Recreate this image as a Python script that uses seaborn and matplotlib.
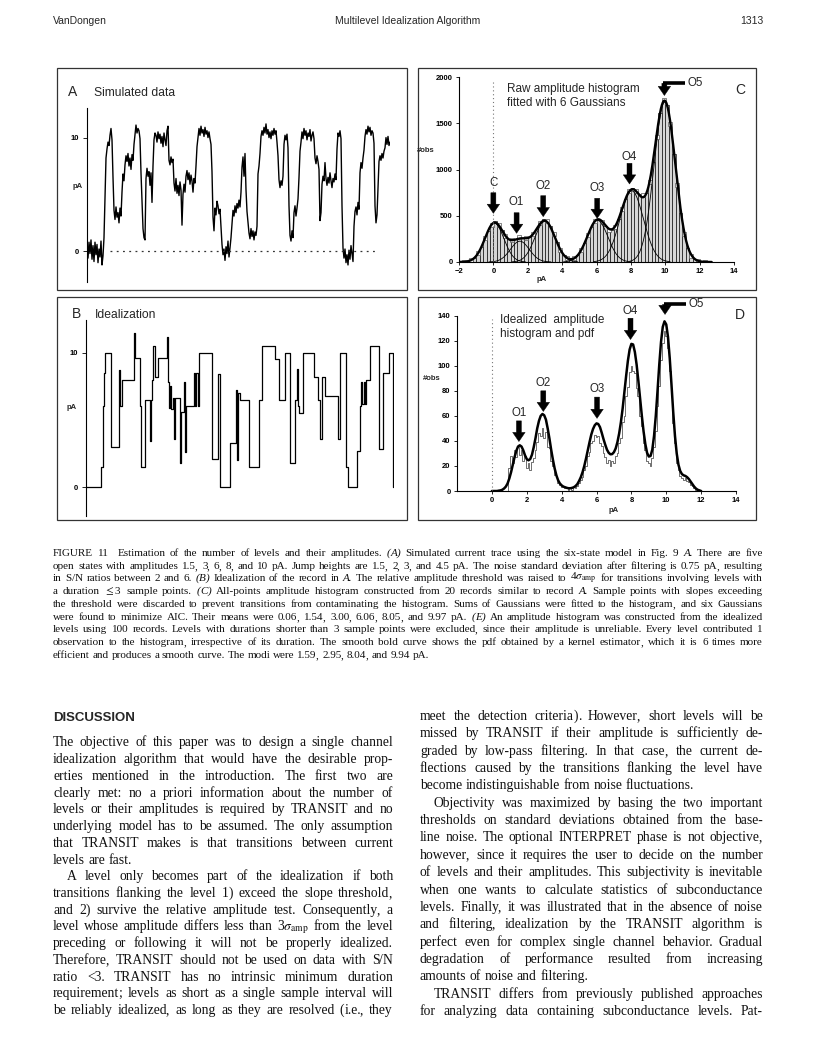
import re

import matplotlib
matplotlib.use("Agg")
import matplotlib.pyplot as plt
import numpy as np
import seaborn as sns
from matplotlib.patches import Rectangle

sns.set_theme(style="white")
plt.rcParams["font.family"] = "Liberation Sans"
plt.rcParams["mathtext.fontset"] = "stix"

W, H = 816, 1064
SANS = "Liberation Sans"
SERIF = "Liberation Serif"

# ---------------- data ----------------
# A: simulated current trace (pA), one value per sample
trace_a = [
    0.3, -0.6, 0.8, -0.2, 1.0, -0.7, 0.5, -0.9, 0.8, -0.3, 0.6, -1.0, 0.2, -0.5, 0.9, -1.2, -0.4,
    1.2, 4.8, 8.2, 9.0, 9.6, 9.3, 10.2, 10.8, 9.8, 6.5,
    3.6, 2.8, 3.9, 3.0, 3.4, 2.5, 3.8, 3.1,
    5.2, 6.8, 6.2,
    7.6, 8.4, 7.9, 8.6, 7.5, 8.2, 7.2, 8.5, 8.0,
    9.4, 10.3, 11.1, 10.4, 10.8, 10.6, 9.9,
    6.9, 4.5, 2.0, 1.2, 1.0,
    6.4, 7.3, 6.6, 7.0, 5.8, 6.9,
    4.3, 7.5, 9.8,
    10.4, 10.2, 9.6, 10.5, 9.9, 10.3, 9.5, 10.1, 9.2, 10.4, 9.8, 9.3, 10.6, 11.0,
    8.0, 7.6, 8.3, 7.8, 8.1,
    6.0, 5.3, 6.4, 5.1, 5.8, 4.9, 6.1, 5.4, 2.3, 5.0, 5.9, 5.2,
    6.6, 7.1, 6.3, 6.9, 5.9, 6.7, 6.2, 5.2, 6.4, 6.0,
    7.5, 9.2, 10.0,
    10.8, 10.2, 11.0, 10.4, 10.7, 10.1, 10.9, 10.3, 10.6, 10.0, 10.5, 9.9, 9.4,
    7.0, 3.0, 1.8,
    3.8, 3.2, 4.4, 4.0, 3.3, 3.7, 2.1,
    0.6, -0.3, 0.2, -0.8, 0.4, -0.2, 0.9, -0.5, 0.3, 1.2,
    2.4, 3.6, 3.1, 4.0, 3.4, 4.2, 3.8, 4.5, 3.9, 5.2,
    7.4, 8.3, 6.6, 8.6, 5.4,
    3.5, 2.6, 1.6, 1.1, 2.0, 1.3, 1.8, 1.0, 1.7, 1.4, 2.2,
    6.8, 7.5, 8.6,
    10.1, 10.6, 10.2, 10.9, 10.4, 11.2, 10.3, 10.7, 10.0, 10.5, 9.9, 10.6, 10.2, 10.8, 10.3, 10.6, 9.6, 8.4,
    6.3, 5.6, 6.2, 5.8, 6.6,
    9.4, 10.2, 9.8, 10.3, 9.1,
    4.0, 1.4, 0.9, 1.8, 1.2,
    3.4, 4.0, 3.1, 3.8, 4.6,
    6.5, 8.8, 9.6,
    10.5, 9.9, 10.8, 10.2, 10.6, 9.8, 10.4, 10.1, 10.7, 9.7, 10.2, 10.5, 9.9,
    8.2, 7.7, 8.4, 7.9, 7.2,
    2.7, 3.4,
    5.9, 6.6, 6.2, 7.8, 6.4, 5.8, 6.5, 6.0, 6.9, 6.2, 5.6, 6.4, 6.1, 6.8, 6.3,
    9.0, 10.4, 10.1, 10.6, 9.9,
    4.0,
    0.3, -0.6, 0.2, -1.0, -0.3, -1.2, 0.1, -0.7, 0.5, -0.2, -0.9,
    2.2, 3.5, 3.9, 3.2, 4.3, 3.7,
    6.9, 7.8, 7.3, 8.2, 8.9,
    10.1, 10.7, 10.3, 11.0, 10.5, 10.9, 10.2, 10.6, 10.4, 9.5,
    4.0, 2.5, 3.2,
    5.5, 7.9, 8.4, 8.0, 8.6, 8.2, 8.8, 9.1, 10.0, 9.4, 10.1, 9.3, 9.6,
]
baseline_a = [23.3, 288.3]   # extent of the dotted zero line (samples)

# B: idealized record, change times (samples) and levels (pA)
steps_t_b = [0, 15.3, 16.7, 18, 19.3, 24.7, 32.7, 33.3, 34, 36, 47.7, 48.7, 54.3, 55.3,
             59.3, 63.7, 64.7, 66, 67, 69.3, 71.7, 81, 82, 83.3, 84.3, 85.3, 86.7, 88,
             88.7, 94.3, 95.3, 98, 98.7, 99.7, 108.3, 109.3, 110.3, 111.7, 112.7, 126,
             132, 133.7, 144.3, 150.3, 151.3, 152.3, 153.7, 162.7, 172.7, 176, 189.3,
             192.7, 199.3, 204.3, 209.3, 211, 212, 213.3, 216.7, 227.7, 232, 234.3, 236,
             239.3, 252, 254.3, 260, 262, 271, 274.3, 275.3, 276.3, 277.7, 278.7, 279.7,
             284.3, 292.7, 296.7, 302.7, 306.7, 307.7]
steps_y_b = [0, 1.5, 6, 8.5, 10, 3, 6, 8.7, 6, 8, 11.5, 9.6, 6, 1.5,
             6.5, 3.4, 6.5, 8, 10.5, 8.2, 9.6, 11.2, 7.8, 5.9, 7.5, 5.8, 6.6, 3.6,
             6.6, 1.8, 5.6, 7.8, 2.6, 6, 8.5, 6, 8.5, 6, 10, 2.1,
             8.4, 0, 3.3, 7.2, 2.0, 7.0, 6.5, 1.5, 6.5, 10.5, 9.5,
             6.5, 10, 1.8, 6.5, 8.8, 6, 5.5, 10, 8.2, 6.5, 3.6, 8.2,
             6.8, 3.6, 10, 1.5, 0, 2.7, 6, 7.8, 6.2, 7.8, 6.2, 8,
             10.5, 2.8, 8.5, 10, 0, 0]

# C: all-points amplitude histogram (bins of 0.2 pA starting at -1.7)
hist_c_first, hist_c_bin = -1.7, 0.2
hist_c = [3, 9, 22, 48, 95, 165, 255, 335, 405, 440, 400, 345, 285, 250, 240, 245,
          270, 255, 262, 275, 305, 360, 420, 465, 440, 390, 300, 215, 135, 78, 45, 38,
          45, 75, 130, 205, 295, 380, 440, 455, 430, 385, 350, 345, 380, 460, 570, 680,
          770, 795, 770, 730, 720, 745, 860, 1080, 1350, 1610, 1750, 1700, 1490, 1170,
          830, 525, 300, 150, 70, 28, 10, 4, 1]
gauss_labels = ["C", "O1", "O2", "O3", "O4", "O5"]
gauss_means = [0.06, 1.54, 3.00, 6.06, 8.05, 9.97]
gauss_heights = [420, 225, 440, 450, 770, 1730]
gauss_sds = [0.55, 0.55, 0.58, 0.60, 0.68, 0.62]

# D: idealized amplitude histogram (0.1 pA bins from 0.9) and kernel pdf (0.1 pA grid from 0)
hist_d_first, hist_d_bin = 0.9, 0.1
hist_d = [0, 18, 28, 22, 33, 27, 35, 29, 33, 24, 28, 18, 22, 17, 23, 26, 33, 39, 46, 44,
          50, 42, 47, 35, 34, 24, 20, 13, 11, 6, 5, 3, 4, 2, 3, 1, 2, 1, 3, 2, 4, 6, 9,
          11, 17, 20, 28, 31, 38, 40, 45, 43, 44, 38, 36, 30, 27, 22, 25, 20, 24, 22, 28,
          30, 38, 42, 55, 60, 76, 83, 95, 100, 96, 94, 82, 76, 60, 52, 38, 33, 24, 22, 20,
          26, 35, 48, 68, 84, 105, 118, 128, 124, 114, 96, 78, 54, 38, 22, 17, 12, 10, 9,
          10, 8, 7, 5, 4, 2, 1, 1, 0]
pdf_d_first, pdf_d_step = 0.0, 0.1
pdf_d = [0, 0, 0, 0, 0.3, 0.5, 1, 2, 3.5, 6, 10, 15, 21, 27, 32, 35.5, 36.5, 35.5, 32.5,
         28.5, 25.5, 24.5, 25.5, 29, 35, 42, 50, 56, 60, 61.5, 60.5, 57, 50, 42, 33, 25,
         18, 12.5, 8.5, 6, 4.5, 3.5, 3, 2.5, 2.2, 2.2, 2.5, 3, 4, 5.5, 8, 11, 15, 20, 26,
         32.5, 39, 45, 49.5, 52.5, 54, 53.5, 51, 46.5, 41.5, 37, 33, 30.5, 29.3, 29.5, 31,
         34, 39, 46, 55, 66, 79, 92, 104, 113, 117.5, 117, 111, 101, 88, 74, 60, 47.5,
         37.5, 30.5, 27.5, 28, 33, 44, 60, 80, 101, 119, 131, 135.5, 133, 123, 106, 85,
         63, 44, 30, 21, 16, 13.5, 12.5, 12, 11, 9.5, 7.5, 5.5, 3.5, 2, 1, 0.5, 0]

# arrow annotations: label, x (pA), label y, arrow tail y, arrow tip y
arrows_c = [("C", 0.0, 851, 749, 526), ("O1", 1.35, 645, 533, 310),
            ("O2", 2.9, 822, 717, 490), ("O3", 6.04, 797, 689, 472),
            ("O4", 7.92, 1138, 1067, 843)]
bent_c = dict(x_end=11.15, x=9.95, y=1932, tip=1800)
arrows_d = [("O1", 1.55, 62, 56, 39.5), ("O2", 2.95, 86, 80, 63.5),
            ("O3", 6.03, 81.6, 75, 58), ("O4", 7.95, 144, 138, 121)]
bent_d = dict(x_end=11.14, x=9.93, y=149, tip=141)

HEADER = ("VanDongen", "Multilevel Idealization Algorithm", "1313")

CAPTION = [
    ("FIGURE 11  Estimation of the number of levels and their amplitudes. _(A) Simulated current trace using the six-state model in Fig. 9 _A. There are five", "j"),
    ("open states with amplitudes 1.5, 3, 6, 8, and 10 pA. Jump heights are 1.5, 2, 3, and 4.5 pA. The noise standard deviation after filtering is 0.75 pA, resulting", "j"),
    ("in S/N ratios between 2 and 6. _(B) Idealization of the record in _A. The relative amplitude threshold was raised to 4$\\sigma_{\\mathrm{amp}}$ for transitions involving levels with", "j"),
    ("a duration $\\leq$3 sample points. _(C) All-points amplitude histogram constructed from 20 records similar to record _A. Sample points with slopes exceeding", "j"),
    ("the threshold were discarded to prevent transitions from contaminating the histogram. Sums of Gaussians were fitted to the histogram, and six Gaussians", "j"),
    ("were found to minimize AIC. Their means were 0.06, 1.54, 3.00, 6.06, 8.05, and 9.97 pA. _(E) An amplitude histogram was constructed from the idealized", "j"),
    ("levels using 100 records. Levels with durations shorter than 3 sample points were excluded, since their amplitude is unreliable. Every level contributed 1", "j"),
    ("observation to the histogram, irrespective of its duration. The smooth bold curve shows the pdf obtained by a kernel estimator, which it is 6 times more", "j"),
    ("efficient and produces a smooth curve. The modi were 1.59, 2.95, 8.04, and 9.94 pA.", "l"),
]

LEFT_COL = [
    ("The objective of this paper was to design a single channel", "j"),
    ("idealization algorithm that would have the desirable prop-", "j"),
    ("erties mentioned in the introduction. The first two are", "j"),
    ("clearly met: no a priori information about the number of", "j"),
    ("levels or their amplitudes is required by TRANSIT and no", "j"),
    ("underlying model has to be assumed. The only assumption", "j"),
    ("that TRANSIT makes is that transitions between current", "j"),
    ("levels are fast.", "l"),
    ("A level only becomes part of the idealization if both", "ij"),
    ("transitions flanking the level 1) exceed the slope threshold,", "j"),
    ("and 2) survive the relative amplitude test. Consequently, a", "j"),
    ("level whose amplitude differs less than 3$\\sigma_{\\mathrm{amp}}$ from the level", "j"),
    ("preceding or following it will not be properly idealized.", "j"),
    ("Therefore, TRANSIT should not be used on data with S/N", "j"),
    ("ratio <3. TRANSIT has no intrinsic minimum duration", "j"),
    ("requirement; levels as short as a single sample interval will", "j"),
    ("be reliably idealized, as long as they are resolved (i.e., they", "j"),
]

RIGHT_COL = [
    ("meet the detection criteria). However, short levels will be", "j"),
    ("missed by TRANSIT if their amplitude is sufficiently de-", "j"),
    ("graded by low-pass filtering. In that case, the current de-", "j"),
    ("flections caused by the transitions flanking the level have", "j"),
    ("become indistinguishable from noise fluctuations.", "l"),
    ("Objectivity was maximized by basing the two important", "ij"),
    ("thresholds on standard deviations obtained from the base-", "j"),
    ("line noise. The optional INTERPRET phase is not objective,", "j"),
    ("however, since it requires the user to decide on the number", "j"),
    ("of levels and their amplitudes. This subjectivity is inevitable", "j"),
    ("when one wants to calculate statistics of subconductance", "j"),
    ("levels. Finally, it was illustrated that in the absence of noise", "j"),
    ("and filtering, idealization by the TRANSIT algorithm is", "j"),
    ("perfect even for complex single channel behavior. Gradual", "j"),
    ("degradation of performance resulted from increasing", "j"),
    ("amounts of noise and filtering.", "l"),
    ("TRANSIT differs from previously published approaches", "ij"),
    ("for analyzing data containing subconductance levels. Pat-", "j"),
]


# ---------------- helpers ----------------
def px_axes(fig, left, top, right, bottom):
    ax = fig.add_axes([left / W, 1 - bottom / H, (right - left) / W, (bottom - top) / H])
    ax.patch.set_alpha(0)
    return ax


def ftext(fig, x, y, s, **kw):
    return fig.text(x / W, 1 - y / H, s, **kw)


def panel_box(fig, left, top, right, bottom):
    fig.add_artist(Rectangle((left / W, 1 - bottom / H), (right - left) / W, (bottom - top) / H,
                             transform=fig.transFigure, fill=False, ec="#333333", lw=0.9))


def split_word(w):
    # punctuation that dips below the baseline is drawn on its own, so every
    # piece of a line sits on the same baseline
    if "$" in w:
        return [w]
    return [p for p in re.split(r"([(),;/])", w) if p]


def advance(fig, r, s, **kw):
    # pen advance of s: width of s+"n" minus width of "n" (drops bbox overhead)
    t1 = fig.text(0, 0, s + "n", **kw)
    t2 = fig.text(0, 0, "n", **kw)
    adv = t1.get_window_extent(r).width - t2.get_window_extent(r).width
    t1.remove()
    t2.remove()
    return adv


def text_lines(fig, lines, x0, x1, y_first, dy, size, indent=14):
    r = fig.canvas.get_renderer()
    space = advance(fig, r, "n ", fontsize=size, family=SERIF) - advance(fig, r, "n", fontsize=size, family=SERIF)
    # lone commas / semicolons are drawn a little right of their pen position
    nudge = 0.1 * size * 100 / 72
    for k, (line, mode) in enumerate(lines):
        y = round(y_first + k * dy)
        left = x0 + (indent if mode.startswith("i") else 0)
        words = []
        for w in line.split(" "):
            style = "normal"
            if w.startswith("_"):
                w, style = w[1:], "italic"
            kw = dict(fontsize=size, family=SERIF, style=style)
            parts = split_word(w)
            pieces = [ftext(fig, left, y, p, va="baseline", color="#111111", **kw) for p in parts]
            widths = [advance(fig, r, p, **kw) for p in parts]
            words.append((pieces, widths))
        total = sum(sum(wd) for _, wd in words)
        if mode.endswith("l") or len(words) < 2:
            gap = space
        else:
            gap = (x1 - left - total) / (len(words) - 1)
        x = left
        for pieces, widths in words:
            for t, wd in zip(pieces, widths):
                shift = nudge if t.get_text() in (",", ";") else 0
                t.set_x((x - shift) / W)
                x += wd
            x += gap


def style_axis(ax, size=5.5):
    for side in ["top", "right"]:
        ax.spines[side].set_visible(False)
    for side in ["left", "bottom"]:
        ax.spines[side].set_linewidth(0.8)
        ax.spines[side].set_color("black")
    ax.tick_params(direction="out", length=2.5, width=0.6, labelsize=size, pad=2,
                   colors="black", left=True, bottom=True)
    for lab in ax.get_xticklabels() + ax.get_yticklabels():
        lab.set_fontweight("bold")
    ax.set_xlabel("")
    ax.set_ylabel("")


def down_arrow(ax, x, tail, tip):
    ax.annotate("", xy=(x, tip), xytext=(x, tail), annotation_clip=False,
                arrowprops=dict(arrowstyle="simple,head_length=0.55,head_width=0.75,tail_width=0.3",
                                fc="black", ec="black", lw=0.3, shrinkA=0, shrinkB=0))


def bent_arrow(ax, spec, label):
    ax.plot([spec["x_end"], spec["x"] - 0.06], [spec["y"], spec["y"]], color="black",
            lw=2.6, solid_capstyle="butt", clip_on=False)
    down_arrow(ax, spec["x"], spec["y"], spec["tip"])
    ax.text(spec["x_end"] + 0.15, spec["y"], label, fontsize=8.3, ha="left", va="center",
            clip_on=False)


# ---------------- figure ----------------
fig = plt.figure(figsize=(W / 100, H / 100), dpi=100)
fig.patch.set_facecolor("white")

# running head
ftext(fig, 53, 24, HEADER[0], fontsize=7.5, family=SANS, va="baseline")
ftext(fig, 408, 24, HEADER[1], fontsize=7.5, family=SANS, va="baseline", ha="center")
ftext(fig, 763, 24, HEADER[2], fontsize=7.5, family=SANS, va="baseline", ha="right")

# panel frames
panel_box(fig, 57, 68, 407, 290)
panel_box(fig, 418, 68, 756, 290)
panel_box(fig, 57, 297, 407, 520)
panel_box(fig, 418, 297, 756, 520)

# ---- A ----
ax_a = px_axes(fig, 87, 108, 390, 282)
x_a = np.arange(len(trace_a))
sns.lineplot(x=x_a, y=trace_a, ax=ax_a, color="black", lw=1.0, estimator=None)
ax_a.plot(baseline_a, [0, 0], color="#333333", lw=0.9, ls=(0, (1.5, 3.5)))
ax_a.set_xlim(0, len(trace_a) - 1)
ax_a.set_ylim(-2.7, 12.6)
ax_a.set_xticks([])
ax_a.set_yticks([0, 10])
style_axis(ax_a)
ax_a.spines["bottom"].set_visible(False)
ax_a.tick_params(axis="y", length=3, pad=3)
ftext(fig, 68, 96, "A", fontsize=10, family=SANS, va="baseline")
ftext(fig, 94, 96, "Simulated data", fontsize=8.7, family=SANS, va="baseline")
ftext(fig, 78, 187, "pA", fontsize=5.5, family=SANS, weight="bold", ha="center", va="center")

# ---- B ----
ax_b = px_axes(fig, 86, 320, 394, 516)
sns.lineplot(x=steps_t_b, y=steps_y_b, ax=ax_b, color="black", lw=0.9,
             drawstyle="steps-post", estimator=None)
ax_b.set_xlim(0, 308)
ax_b.set_ylim(-2.15, 12.43)
ax_b.set_xticks([])
ax_b.set_yticks([0, 10])
style_axis(ax_b)
ax_b.spines["bottom"].set_visible(False)
ax_b.tick_params(axis="y", length=3, pad=3)
ftext(fig, 72, 318, "B", fontsize=10, family=SANS, va="baseline")
ftext(fig, 95, 318, "Idealization", fontsize=8.7, family=SANS, va="baseline")
ftext(fig, 72, 408, "pA", fontsize=5.5, family=SANS, weight="bold", ha="center", va="center")

# ---- C ----
ax_c = px_axes(fig, 459, 77, 734, 262)
centers_c = hist_c_first + hist_c_bin * np.arange(len(hist_c))
ax_c.bar(centers_c, hist_c, width=hist_c_bin, color="#d6d6d6", edgecolor="black", linewidth=0.45)
ax_c.plot(centers_c[::2], hist_c[::2], "s", ms=2.4, mfc="white", mec="#555555", mew=0.5)
xs = np.linspace(-1.95, 12.7, 800)
total = np.zeros_like(xs)
for m, h, s in zip(gauss_means, gauss_heights, gauss_sds):
    comp = h * np.exp(-(xs - m) ** 2 / (2 * s ** 2))
    total += comp
    keep = np.abs(xs - m) < 3.3 * s
    sns.lineplot(x=xs[keep], y=comp[keep], ax=ax_c, color="black", lw=0.6, estimator=None)
sns.lineplot(x=xs, y=total, ax=ax_c, color="black", lw=1.7, estimator=None)
ax_c.axvline(0, color="#777777", lw=0.8, ls=(0, (1, 2.5)), ymax=0.98)
ax_c.set_xlim(-2, 14)
ax_c.set_ylim(0, 2000)
ax_c.set_xticks(range(-2, 15, 2))
ax_c.set_yticks(range(0, 2001, 500))
style_axis(ax_c)
for lab, x, ly, tail, tip in arrows_c:
    down_arrow(ax_c, x, tail, tip)
    ax_c.text(x, ly, lab, fontsize=8.3, ha="center", va="center")
bent_arrow(ax_c, bent_c, "O5")
ftext(fig, 507, 92, "Raw amplitude histogram", fontsize=8.5, family=SANS, va="baseline")
ftext(fig, 507, 106.5, "fitted with 6 Gaussians", fontsize=8.5, family=SANS, va="baseline")
ftext(fig, 740, 90, "C", fontsize=10, family=SANS, va="center", ha="center")
ftext(fig, 426, 150, "#obs", fontsize=5.5, family=SANS, weight="bold", ha="center", va="center")
ftext(fig, 542, 279, "pA", fontsize=5.5, family=SANS, weight="bold", ha="center", va="center")

# ---- D ----
ax_d = px_axes(fig, 457, 315.7, 736, 491)
x_hd = hist_d_first + hist_d_bin * np.arange(len(hist_d))
sns.lineplot(x=x_hd, y=hist_d, ax=ax_d, color="#6f6f6f", lw=0.7,
             drawstyle="steps-mid", estimator=None)
x_pd = pdf_d_first + pdf_d_step * np.arange(len(pdf_d))
sns.lineplot(x=x_pd, y=pdf_d, ax=ax_d, color="black", lw=1.8, estimator=None)
ax_d.axvline(0, color="#777777", lw=0.8, ls=(0, (1, 2.5)), ymax=0.98)
ax_d.set_xlim(-2, 14)
ax_d.set_ylim(0, 140)
ax_d.set_xticks(range(0, 15, 2))
ax_d.set_yticks(range(0, 141, 20))
style_axis(ax_d)
for lab, x, ly, tail, tip in arrows_d:
    down_arrow(ax_d, x, tail, tip)
    ax_d.text(x, ly, lab, fontsize=8.3, ha="center", va="center", clip_on=False)
bent_arrow(ax_d, bent_d, "O5")
ftext(fig, 500, 323, "Idealized  amplitude", fontsize=8.5, family=SANS, va="baseline")
ftext(fig, 500, 337, "histogram and pdf", fontsize=8.5, family=SANS, va="baseline")
ftext(fig, 740, 315, "D", fontsize=10, family=SANS, va="center", ha="center")
ftext(fig, 432, 379, "#obs", fontsize=5.5, family=SANS, weight="bold", ha="center", va="center")
ftext(fig, 614, 511, "pA", fontsize=5.5, family=SANS, weight="bold", ha="center", va="center")

# ---- caption and body text ----
text_lines(fig, CAPTION, 53, 763, 556, 12.7, 8.0)
ftext(fig, 53, 721, "DISCUSSION", fontsize=9.5, family=SANS, weight="bold", va="baseline")
text_lines(fig, LEFT_COL, 53, 393, 746.5, 16.72, 9.8)
text_lines(fig, RIGHT_COL, 420, 763, 720, 17.35, 9.8)

fig.savefig("out.png", dpi=100, facecolor="white")
